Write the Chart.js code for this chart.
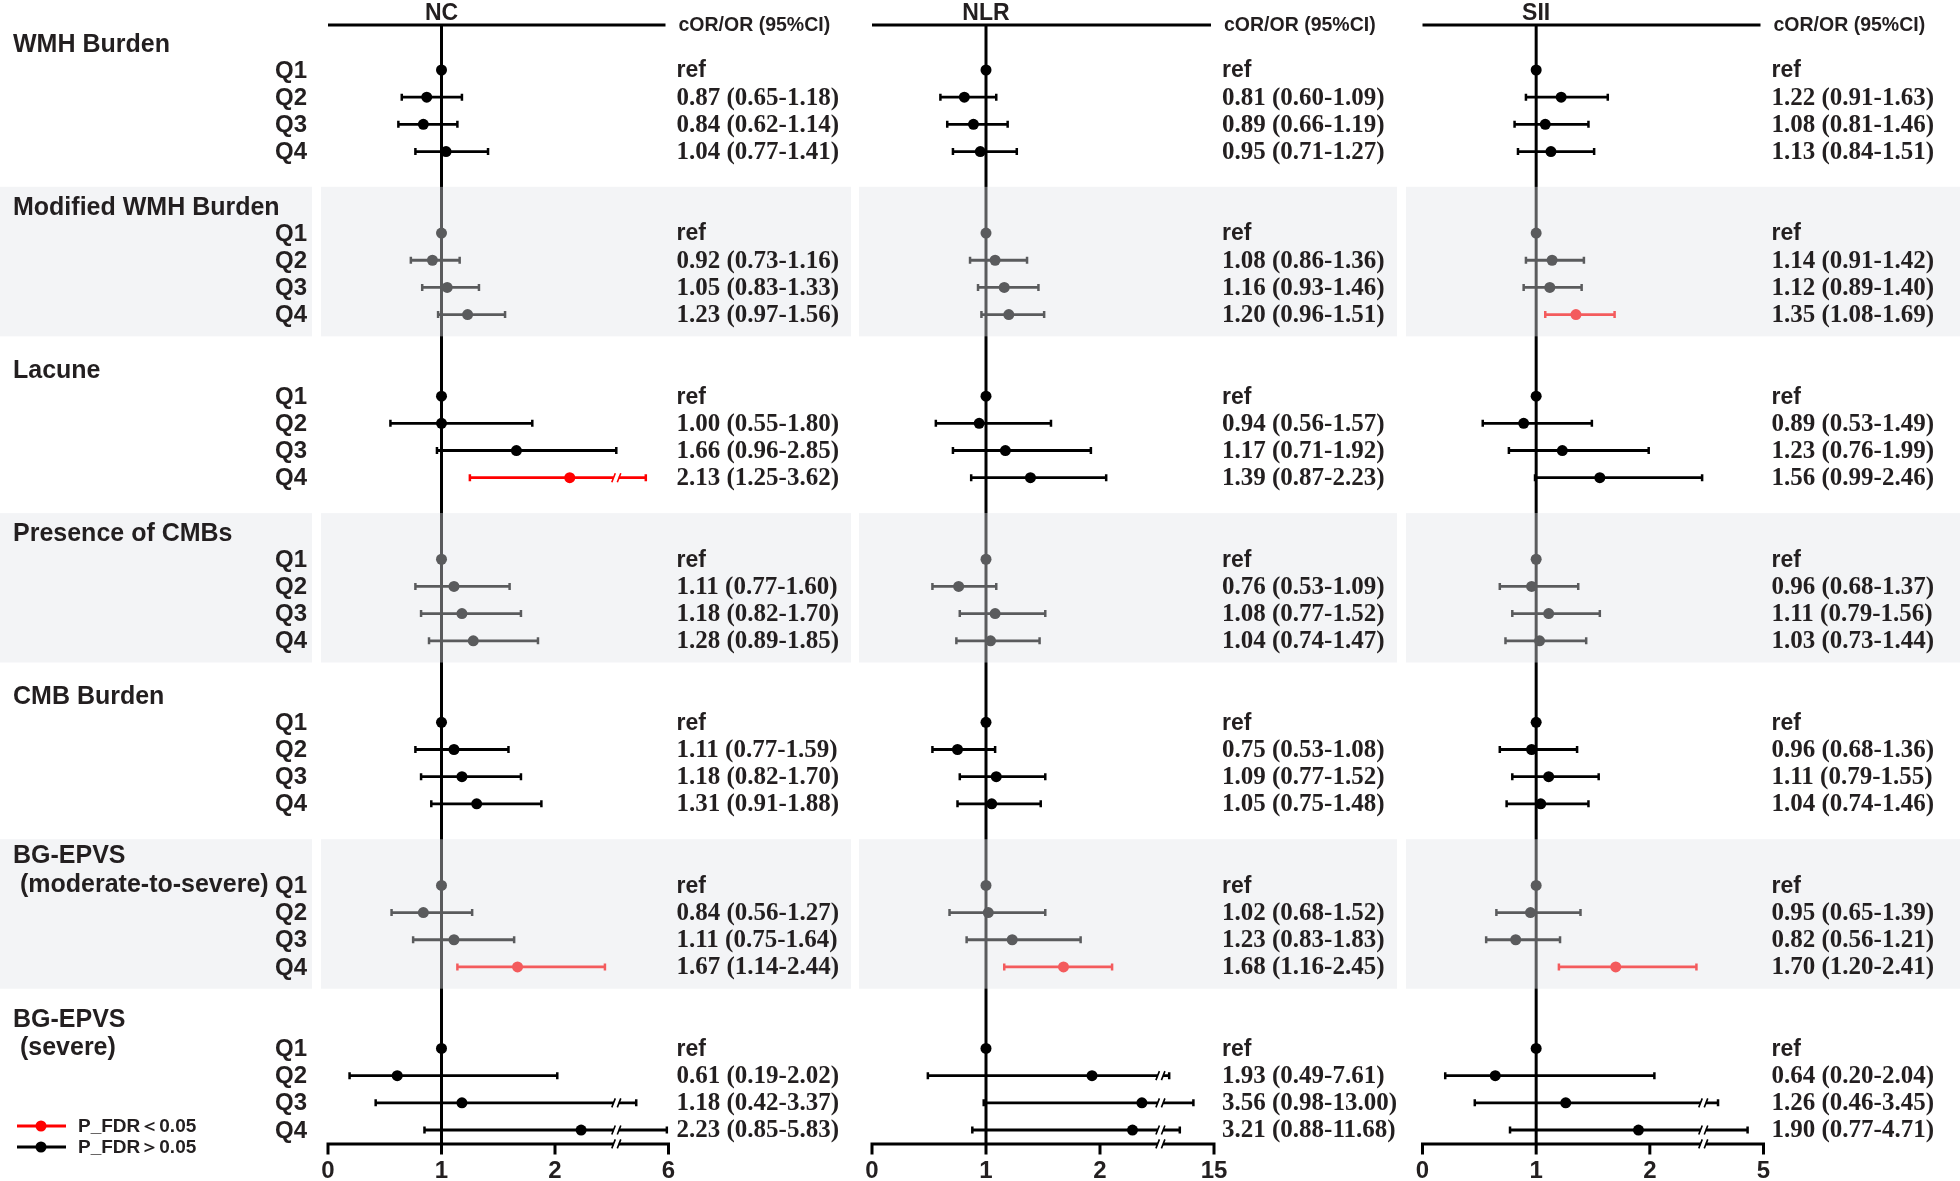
<!DOCTYPE html>
<html>
<head>
<meta charset="utf-8">
<title>Forest plot - NC, NLR, SII</title>
<script src="https://cdn.jsdelivr.net/npm/chart.js@4.4.1/dist/chart.umd.min.js"></script>
<style>
  html, body { margin: 0; padding: 0; background: #fff; }
  body { width: 1960px; height: 1181px; position: relative; overflow: hidden; }
  canvas { position: absolute; top: 0; display: block; }
</style>
</head>
<body>
<canvas id="nc" width="855" height="1181" style="left:0px"></canvas>
<canvas id="nlr" width="546" height="1181" style="left:855px"></canvas>
<canvas id="sii" width="559" height="1181" style="left:1401px"></canvas>
<script>
// ---- data ----
const groups = ['WMH Burden', 'Modified WMH Burden', 'Lacune', 'Presence of CMBs',
  'CMB Burden', 'BG-EPVS\n (moderate-to-severe)', 'BG-EPVS\n (severe)']
const quartiles = ['Q1', 'Q2', 'Q3', 'Q4']   // Q1 = ref
const shadedGroups = [1, 3, 5]

// values for Q2..Q4 of every group
const ncOR = [[0.87, 0.84, 1.04], [0.92, 1.05, 1.23], [1.00, 1.66, 2.13], [1.11, 1.18, 1.28],
  [1.11, 1.18, 1.31], [0.84, 1.11, 1.67], [0.61, 1.18, 2.23]]
const ncLow = [[0.65, 0.62, 0.77], [0.73, 0.83, 0.97], [0.55, 0.96, 1.25], [0.77, 0.82, 0.89],
  [0.77, 0.82, 0.91], [0.56, 0.75, 1.14], [0.19, 0.42, 0.85]]
const ncHigh = [[1.18, 1.14, 1.41], [1.16, 1.33, 1.56], [1.80, 2.85, 3.62], [1.60, 1.70, 1.85],
  [1.59, 1.70, 1.88], [1.27, 1.64, 2.44], [2.02, 3.37, 5.83]]
const ncSig = [[2, 3], [5, 3]]   // [group, quartile] with P_FDR<0.05

const nlrOR = [[0.81, 0.89, 0.95], [1.08, 1.16, 1.20], [0.94, 1.17, 1.39], [0.76, 1.08, 1.04],
  [0.75, 1.09, 1.05], [1.02, 1.23, 1.68], [1.93, 3.56, 3.21]]
const nlrLow = [[0.60, 0.66, 0.71], [0.86, 0.93, 0.96], [0.56, 0.71, 0.87], [0.53, 0.77, 0.74],
  [0.53, 0.77, 0.75], [0.68, 0.83, 1.16], [0.49, 0.98, 0.88]]
const nlrHigh = [[1.09, 1.19, 1.27], [1.36, 1.46, 1.51], [1.57, 1.92, 2.23], [1.09, 1.52, 1.47],
  [1.08, 1.52, 1.48], [1.52, 1.83, 2.45], [7.61, 13.00, 11.68]]
const nlrSig = [[5, 3]]

const siiOR = [[1.22, 1.08, 1.13], [1.14, 1.12, 1.35], [0.89, 1.23, 1.56], [0.96, 1.11, 1.03],
  [0.96, 1.11, 1.04], [0.95, 0.82, 1.70], [0.64, 1.26, 1.90]]
const siiLow = [[0.91, 0.81, 0.84], [0.91, 0.89, 1.08], [0.53, 0.76, 0.99], [0.68, 0.79, 0.73],
  [0.68, 0.79, 0.74], [0.65, 0.56, 1.20], [0.20, 0.46, 0.77]]
const siiHigh = [[1.63, 1.46, 1.51], [1.42, 1.40, 1.69], [1.49, 1.99, 2.46], [1.37, 1.56, 1.44],
  [1.36, 1.55, 1.46], [1.39, 1.21, 2.41], [2.04, 3.45, 4.71]]
const siiSig = [[1, 3], [5, 3]]

const ncTicks = [0, 1, 2, 6]
const nlrTicks = [0, 1, 2, 15]
const siiTicks = [0, 1, 2, 5]

// ---- look ----
const BLACK = '#000000'
const RED = '#ff0000'
const TEXT = '#231f20'
const BAND = 'rgba(225,228,232,0.4)'
const SANS = '"Liberation Sans", Arial, sans-serif'
const SERIF = '"Liberation Serif", "Times New Roman", serif'
const TOP_Y = -1.66
const AXIS_Y = 39.51

// broken axis: value knots -> axis position
const panels = [
  { id: 'nc', title: 'NC', or: ncOR, low: ncLow, high: ncHigh, sig: ncSig, ticks: ncTicks,
    left: 0, width: 855, plotLeft: 328, plotRight: 668.5,
    knots: { v: [0, 2.5, 2.85, 3.62, 6], p: [0, 2.5, 2.54, 2.8, 3] }, breakValue: 2.85, breakPos: 2.54,
    bands: [[0, 312], [321, 851]], labels: true },
  { id: 'nlr', title: 'NLR', or: nlrOR, low: nlrLow, high: nlrHigh, sig: nlrSig, ticks: nlrTicks,
    left: 855, width: 546, plotLeft: 872, plotRight: 1214,
    knots: { v: [0, 2, 4.25, 11.68, 15], p: [0, 2, 2.53, 2.7, 3] }, breakValue: 4.25, breakPos: 2.53,
    bands: [[859, 1397]], labels: false },
  { id: 'sii', title: 'SII', or: siiOR, low: siiLow, high: siiHigh, sig: siiSig, ticks: siiTicks,
    left: 1401, width: 559, plotLeft: 1422.5, plotRight: 1763.5,
    knots: { v: [0, 2.46, 3.45, 4.71, 5], p: [0, 2.46, 2.6, 2.86, 3] }, breakValue: 2.46, breakPos: 2.47,
    bands: [[1406, 1960]], labels: false },
]

function warp(v, k) {
  for (let i = 1; i < k.v.length; i++) {
    if (v <= k.v[i]) {
      const t = (v - k.v[i - 1]) / (k.v[i] - k.v[i - 1])
      return k.p[i - 1] + t * (k.p[i] - k.p[i - 1])
    }
  }
  return k.p[k.p.length - 1]
}

const isSig = (list, g, q) => list.some(s => s[0] === g && s[1] === q)
const rowY = (g, q) => g * 6 + q
const fmt = (or, lo, hi) => `${or.toFixed(2)} (${lo.toFixed(2)}-${hi.toFixed(2)})`

function drawBreak(ctx, px, py, color) {
  ctx.save()
  ctx.fillStyle = '#ffffff'
  ctx.fillRect(px - 2.5, py - 2.5, 5, 5)
  ctx.strokeStyle = color
  ctx.lineWidth = 1.6
  ctx.beginPath()
  ctx.moveTo(px - 4.5, py + 4.5); ctx.lineTo(px - 1, py - 4.5)
  ctx.moveTo(px + 1, py + 4.5); ctx.lineTo(px + 4.5, py - 4.5)
  ctx.stroke()
  ctx.restore()
}

function forestPlugin(p) {
  return {
    id: 'forest_' + p.id,
    beforeDatasetsDraw(chart) {
      const { ctx, scales: { x, y } } = chart
      ctx.save()
      ctx.strokeStyle = BLACK
      ctx.lineWidth = 3
      ctx.beginPath()
      ctx.moveTo(x.getPixelForValue(1), y.getPixelForValue(TOP_Y))
      ctx.lineTo(x.getPixelForValue(1), y.getPixelForValue(AXIS_Y))
      ctx.stroke()
      ctx.restore()
    },
    afterDatasetsDraw(chart) {
      const { ctx, chartArea, scales: { x, y } } = chart

      // broken bars
      groups.forEach((g, gi) => {
        for (let qi = 1; qi < 4; qi++) {
          if (p.high[gi][qi - 1] > p.breakValue) {
            const c = isSig(p.sig, gi, qi) ? RED : BLACK
            drawBreak(ctx, x.getPixelForValue(p.breakPos), y.getPixelForValue(rowY(gi, qi)), c)
          }
        }
      })

      // shaded groups
      ctx.save()
      ctx.fillStyle = BAND
      shadedGroups.forEach(gi => {
        const t = y.getPixelForValue(gi * 6 - 1.7)
        const b = y.getPixelForValue(gi * 6 + 3.8)
        p.bands.forEach(([x0, x1]) => ctx.fillRect(x0 - p.left, t, x1 - x0, b - t))
      })
      ctx.restore()

      ctx.save()
      // header
      const topPx = y.getPixelForValue(TOP_Y)
      ctx.strokeStyle = BLACK
      ctx.lineWidth = 3
      ctx.beginPath()
      ctx.moveTo(x.getPixelForValue(0), topPx)
      ctx.lineTo(x.getPixelForValue(3) - 3, topPx)
      ctx.stroke()
      ctx.fillStyle = TEXT
      ctx.textAlign = 'center'
      ctx.textBaseline = 'middle'
      ctx.font = `bold 23px ${SANS}`
      ctx.fillText(p.title, x.getPixelForValue(1), 14)
      ctx.textAlign = 'left'
      ctx.font = `bold 19.5px ${SANS}`
      ctx.fillText('cOR/OR (95%CI)', chartArea.right + 10, topPx + 1)

      // value column
      const tx = chartArea.right + 8
      groups.forEach((g, gi) => {
        quartiles.forEach((q, qi) => {
          const py = y.getPixelForValue(rowY(gi, qi)) + 1
          if (qi === 0) {
            ctx.font = `bold 23px ${SANS}`
            ctx.fillText('ref', tx, py)
          } else {
            ctx.font = `bold 25px ${SERIF}`
            ctx.fillText(fmt(p.or[gi][qi - 1], p.low[gi][qi - 1], p.high[gi][qi - 1]), tx, py)
          }
        })
      })

      // bottom axis
      const ay = y.getPixelForValue(AXIS_Y)
      ctx.strokeStyle = BLACK
      ctx.lineWidth = 3
      ctx.lineCap = 'square'
      ctx.beginPath()
      ctx.moveTo(x.getPixelForValue(0), ay)
      ctx.lineTo(x.getPixelForValue(3), ay)
      p.ticks.forEach(t => {
        const px = x.getPixelForValue(warp(t, p.knots))
        ctx.moveTo(px, ay)
        ctx.lineTo(px, ay + 9)
      })
      ctx.stroke()
      ctx.lineCap = 'butt'
      drawBreak(ctx, x.getPixelForValue(p.breakPos), ay, BLACK)
      ctx.fillStyle = TEXT
      ctx.textAlign = 'center'
      ctx.font = `bold 24px ${SANS}`
      p.ticks.forEach(t => {
        ctx.fillText(String(t), x.getPixelForValue(warp(t, p.knots)), 1171)
      })

      // row labels and legend (left column)
      if (p.labels) {
        ctx.font = `bold 25px ${SANS}`
        ctx.textAlign = 'left'
        groups.forEach((g, gi) => {
          const lines = g.split('\n')
          if (lines.length === 1) {
            ctx.fillText(lines[0], 13, y.getPixelForValue(gi * 6 - 0.92))
          } else {
            ctx.fillText(lines[0], 13, y.getPixelForValue(gi * 6 - 1.06))
            ctx.fillText(lines[1], 13, y.getPixelForValue(gi * 6))
          }
        })
        ctx.textAlign = 'right'
        ctx.font = `bold 24px ${SANS}`
        groups.forEach((g, gi) => {
          quartiles.forEach((q, qi) => {
            ctx.fillText(q, 307, y.getPixelForValue(rowY(gi, qi)) + 1)
          })
        })

        const legend = [['P_FDR＜0.05', RED, 1126], ['P_FDR＞0.05', BLACK, 1147]]
        legend.forEach(([label, c, ly]) => {
          ctx.strokeStyle = c
          ctx.fillStyle = c
          ctx.lineWidth = 3
          ctx.beginPath()
          ctx.moveTo(17, ly)
          ctx.lineTo(66, ly)
          ctx.stroke()
          ctx.beginPath()
          ctx.arc(41, ly, 5.5, 0, Math.PI * 2)
          ctx.fill()
          ctx.fillStyle = TEXT
          ctx.textAlign = 'left'
          ctx.font = `bold 19px ${SANS}`
          ctx.fillText(label, 78, ly + 1)
        })
      }
      ctx.restore()
    }
  }
}

function makeChart(p) {
  const pts = []
  const colors = []
  const ciSets = []
  groups.forEach((g, gi) => {
    quartiles.forEach((q, qi) => {
      const yv = rowY(gi, qi)
      if (qi === 0) {
        pts.push({ x: 1, y: yv })
        colors.push(BLACK)
        return
      }
      const c = isSig(p.sig, gi, qi) ? RED : BLACK
      pts.push({ x: warp(p.or[gi][qi - 1], p.knots), y: yv })
      colors.push(c)
      ciSets.push({
        data: [{ x: warp(p.low[gi][qi - 1], p.knots), y: yv }, { x: warp(p.high[gi][qi - 1], p.knots), y: yv }],
        showLine: true,
        borderColor: c,
        borderWidth: 2.8,
        pointStyle: 'line',
        pointRotation: 90,
        pointRadius: 3.5,
        pointHoverRadius: 3.5,
        pointBorderWidth: 2.5,
        pointBorderColor: c,
        pointBackgroundColor: c,
      })
    })
  })

  const yTop = 70 - 2 * 27.18
  const yBottom = 70 + 40 * 27.18

  return new Chart(document.getElementById(p.id), {
    type: 'scatter',
    data: {
      datasets: [{
        data: pts,
        pointRadius: 5.5,
        pointHoverRadius: 5.5,
        pointBorderWidth: 0,
        pointBackgroundColor: colors,
        pointBorderColor: colors,
      }, ...ciSets]
    },
    options: {
      responsive: false,
      animation: false,
      devicePixelRatio: 1,
      events: [],
      layout: {
        padding: { left: p.plotLeft - p.left, right: p.left + p.width - p.plotRight, top: yTop, bottom: 1181 - yBottom }
      },
      scales: {
        x: { type: 'linear', min: 0, max: 3, display: false },
        y: { type: 'linear', min: -2, max: 40, reverse: true, display: false },
      },
      plugins: { legend: { display: false }, tooltip: { enabled: false } },
    },
    plugins: [forestPlugin(p)],
  })
}

panels.forEach(makeChart)
</script>
</body>
</html>
